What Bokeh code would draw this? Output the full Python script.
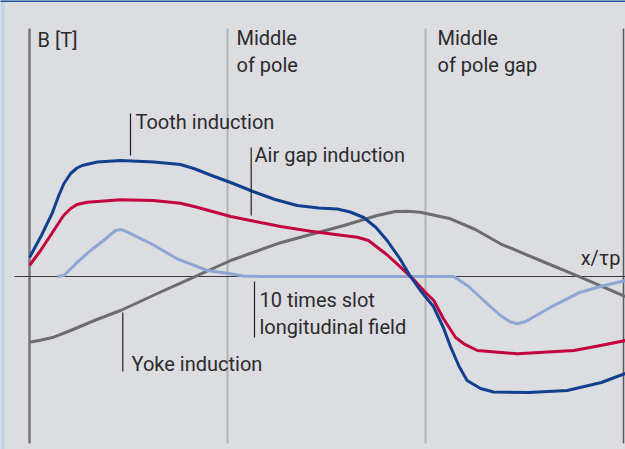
from bokeh.plotting import figure
from bokeh.models import Range1d
from bokeh.core.properties import value
from bokeh.embed import file_html
from bokeh.resources import INLINE

# ---- data: x in units of tau_p, y = B in T (relative scale) ----
tooth_x = [0.0, 0.03, 0.057, 0.074, 0.087, 0.104, 0.12, 0.133, 0.171, 0.23, 0.314, 0.381, 0.415,
           0.46, 0.508, 0.558, 0.62, 0.676, 0.73, 0.777, 0.81, 0.844, 0.875, 0.903, 0.935, 0.962,
           0.987, 1.02, 1.045, 1.063, 1.085, 1.105, 1.139, 1.172, 1.26, 1.358, 1.444, 1.505]
tooth_y = [0.19, 0.41, 0.63, 0.81, 0.93, 1.03, 1.085, 1.11, 1.145, 1.16, 1.145, 1.12, 1.08,
           1.01, 0.94, 0.86, 0.77, 0.71, 0.685, 0.675, 0.645, 0.59, 0.49, 0.36, 0.18, 0.0,
           -0.14, -0.30, -0.51, -0.70, -0.90, -1.04, -1.12, -1.155, -1.16, -1.14, -1.06, -0.97]

airgap_x = [0.0, 0.028, 0.058, 0.086, 0.104, 0.12, 0.146, 0.23, 0.313, 0.381, 0.423, 0.508,
            0.558, 0.634, 0.71, 0.773, 0.828, 0.856, 0.878, 0.902, 0.928, 0.97, 1.0, 1.021,
            1.045, 1.076, 1.097, 1.131, 1.232, 1.375, 1.442, 1.505]
airgap_y = [0.11, 0.26, 0.44, 0.61, 0.68, 0.72, 0.743, 0.767, 0.76, 0.733, 0.693, 0.60,
            0.56, 0.50, 0.453, 0.42, 0.393, 0.36, 0.293, 0.22, 0.127, -0.03, -0.16, -0.24,
            -0.42, -0.61, -0.673, -0.74, -0.773, -0.74, -0.69, -0.64]

yoke_x = [0.0, 0.03, 0.061, 0.104, 0.167, 0.23, 0.323, 0.415, 0.508, 0.625, 0.71, 0.794,
          0.878, 0.924, 0.954, 0.987, 1.063, 1.126, 1.189, 1.29, 1.391, 1.505]
yoke_y = [-0.657, -0.635, -0.607, -0.54, -0.435, -0.34, -0.17, -0.007, 0.16, 0.327, 0.42, 0.51,
          0.61, 0.65, 0.653, 0.643, 0.577, 0.47, 0.327, 0.16, -0.007, -0.20]

slot_x = [0.07, 0.087, 0.12, 0.154, 0.187, 0.217, 0.232, 0.247, 0.306, 0.373, 0.449, 0.508,
          0.54, 0.583, 1.071, 1.109, 1.147, 1.189, 1.215, 1.232, 1.253, 1.316, 1.391, 1.442, 1.505]
slot_y = [0.0, 0.01, 0.14, 0.26, 0.36, 0.46, 0.47, 0.443, 0.33, 0.177, 0.06, 0.027,
          0.005, 0.0, 0.0, -0.10, -0.24, -0.39, -0.455, -0.473, -0.45, -0.307, -0.157, -0.10, -0.04]

marker_x = [0.5, 1.0]  # middle of pole, middle of pole gap
marker_labels = [["Middle", "of pole"], ["Middle", "of pole gap"]]

# ---- pixel <-> data helpers for annotation placement ----
X0_PX, PX_PER_TAU = 29.0, 396.0
ZERO_PX, PX_PER_T = 276.0, 100.0
TXT_SHIFT = 8.0


def dx(px):
    return (px - X0_PX) / PX_PER_TAU


def dy(py):
    return (ZERO_PX - py) / PX_PER_T


def ty(py):
    return dy(py - TXT_SHIFT)


W, H = 625, 449
BG = "#dcdde0"
FONT = value("Roboto")
FS = value("20px")
TXT = "#2b2b2e"

p = figure(width=W, height=H,
           x_range=Range1d(dx(0), dx(W)),
           y_range=Range1d(dy(H), dy(0)),
           output_backend="svg", toolbar_location=None, min_border=0,
           x_axis_location=None, y_axis_location=None)
p.xgrid.visible = False
p.ygrid.visible = False
p.outline_line_color = None
p.background_fill_color = BG
p.border_fill_color = BG

top_y, bot_y = dy(28), dy(443)

# decorative frame: light-blue left strip and blue top rule
p.quad(left=[dx(-5)], right=[dx(4)], bottom=[dy(460)], top=[dy(-5)],
       fill_color="#c3d1e6", line_color=None)
p.quad(left=[dx(-5)], right=[dx(630)], bottom=[dy(1.5)], top=[dy(-5)],
       fill_color="#1d4f9c", line_color=None)

# marker verticals
p.segment(x0=marker_x, y0=[top_y] * 2, x1=marker_x, y1=[bot_y] * 2,
          line_color="#b2b3b7", line_width=2)
# left axis
p.segment(x0=[0], y0=[top_y], x1=[0], y1=[bot_y], line_color="#78777c", line_width=2.5)
# right border
p.segment(x0=[dx(623)], y0=[top_y], x1=[dx(623)], y1=[bot_y], line_color="#5a5a5e", line_width=1.5)
# zero axis
p.segment(x0=[dx(14)], y0=[0], x1=[dx(640)], y1=[0], line_color="#3a3a3d", line_width=1.2)

# curves
p.line(yoke_x, yoke_y, line_color="#6d6d70", line_width=3, line_join="round")
p.line(slot_x, slot_y, line_color="#8ea6d4", line_width=3, line_join="round")
p.line(airgap_x, airgap_y, line_color="#c2053f", line_width=3, line_join="round")
p.line(tooth_x, tooth_y, line_color="#12408f", line_width=3, line_join="round")

# leader lines
lead_x = [dx(130), dx(250.7), dx(254), dx(122.3)]
lead_y0 = [dy(113), dy(147), dy(281), dy(312)]
lead_y1 = [dy(155), dy(215), dy(337), dy(371)]
p.segment(x0=lead_x, y0=lead_y0, x1=lead_x, y1=lead_y1, line_color="#222226", line_width=1.2)

# texts
labels = ["B [T]", marker_labels[0][0], marker_labels[0][1], marker_labels[1][0], marker_labels[1][1],
          "Tooth induction", "Air gap induction", "10 times slot", "longitudinal field",
          "Yoke induction"]
lx = [dx(37), dx(236), dx(236), dx(437), dx(437), dx(135), dx(254), dx(259), dx(259), dx(131)]
ly = [ty(47.5), ty(45.7), ty(72.7), ty(45.7), ty(72.7), ty(129.3), ty(162), ty(307.5), ty(334.5), ty(371)]
p.text(x=lx, y=ly, text=labels, text_font=FONT, text_font_size=FS, text_color=TXT,
       text_align="left", text_baseline="alphabetic")
p.text(x=[dx(620)], y=[ty(265)], text=["x/τp"], text_font=FONT, text_font_size=FS, text_color=TXT,
       text_align="right", text_baseline="alphabetic")

open("out.html", "w").write(file_html(p, INLINE))
